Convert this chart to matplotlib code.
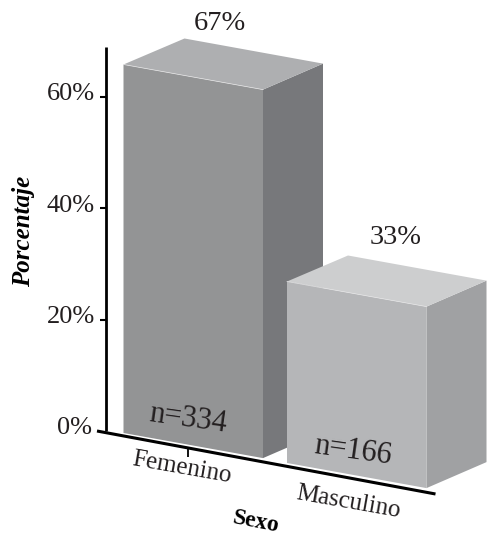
import matplotlib
matplotlib.use('Agg')
import matplotlib.pyplot as plt
from matplotlib.patches import Polygon

categories = ["Femenino", "Masculino"]
percent = [67, 33]
counts = [334, 166]
y_ticks = [0, 20, 40, 60]

# colours per bar: front, top, side
front_cols = ["#939495", "#b5b6b8"]
top_cols = ["#aeafb1", "#cdcecf"]
side_cols = ["#77787b", "#a0a1a3"]

# fake 3d geometry, in pixels of the 487x537 image
AXIS_X = 105.5
Y0 = 431
TICK_SCALE = 5.57
BAR_SCALE = 5.5
FLOOR_SLOPE = 0.18
BAR_LEFT = [123.5, 287]
BAR_W = 139.5
DX, DY = 60, -26
BAR_BASE = [433, 463]

plt.rcParams['font.family'] = ['Liberation Serif', 'DejaVu Serif']
fig = plt.figure(figsize=(4.87, 5.37), dpi=100)
ax = fig.add_axes([0, 0, 1, 1])
ax.set_xlim(0, 487)
ax.set_ylim(537, 0)
ax.axis('off')


def draw_bar(i):
    x0 = BAR_LEFT[i]
    x1 = x0 + BAR_W
    b0 = BAR_BASE[i]
    b1 = b0 + BAR_W * FLOOR_SLOPE
    h = percent[i] * BAR_SCALE
    ax.add_patch(Polygon([(x1, b1), (x1 + DX, b1 + DY), (x1 + DX, b1 + DY - h), (x1, b1 - h)],
                         fc=side_cols[i], ec='none', zorder=2 + i))
    ax.add_patch(Polygon([(x0, b0 - h), (x0 + DX + 1, b0 - h + DY), (x1 + DX, b1 - h + DY), (x1, b1 - h)],
                         fc=top_cols[i], ec='none', zorder=2 + i))
    ax.add_patch(Polygon([(x0, b0), (x1, b1), (x1, b1 - h), (x0, b0 - h)],
                         fc=front_cols[i], ec='none', zorder=2 + i))
    # thin light edge between top and front
    ax.plot([x0, x1], [b0 - h, b1 - h], color='#e6e6e7', lw=0.5, zorder=2 + i)


for i in range(len(categories)):
    draw_bar(i)

# y axis
ax.plot([AXIS_X, AXIS_X], [47, Y0], color='black', lw=2, solid_capstyle='butt', zorder=6)
for t in y_ticks:
    y = Y0 - t * TICK_SCALE
    if t > 0:
        ax.plot([100, AXIS_X], [y, y], color='black', lw=1.5, solid_capstyle='butt', zorder=6)
    ax.text(95 if t > 0 else 92, y - 2.5, f"{t}%", ha='right', va='center', fontsize=19, color='#231f20')

# floor axis
ax.plot([97, 435.5], [431, 494], color='black', lw=2.2, solid_capstyle='butt', zorder=6)
ax.plot([188, 188], [448, 457], color='black', lw=1.3, solid_capstyle='butt', zorder=6)

# labels
label_pos = [(181.5, 468), (348.5, 502)]
for name, (x, y) in zip(categories, label_pos):
    ax.text(x, y, name, ha='center', va='center', rotation=-10, rotation_mode='anchor',
            fontsize=18, color='#231f20')

count_pos = [(188, 419), (353, 451)]
for n, (x, y) in zip(counts, count_pos):
    ax.text(x, y, f"n={n}", ha='center', va='center', rotation=-8, rotation_mode='anchor',
            fontsize=22, color='#231f20', zorder=7)

pct_pos = [(220, 23), (396, 237)]
for p, (x, y) in zip(percent, pct_pos):
    ax.text(x, y, f"{p}%", ha='center', va='center', fontsize=20.5, color='#231f20')

ax.text(24, 231, "Porcentaje", ha='center', va='center', rotation=90, fontsize=18,
        fontweight='bold', fontstyle='italic', color='black')
ax.text(255.5, 522, "Sexo", ha='center', va='center', rotation=-11, rotation_mode='anchor',
        fontsize=17, fontweight='bold', color='black')

fig.savefig('out.png', dpi=100)
